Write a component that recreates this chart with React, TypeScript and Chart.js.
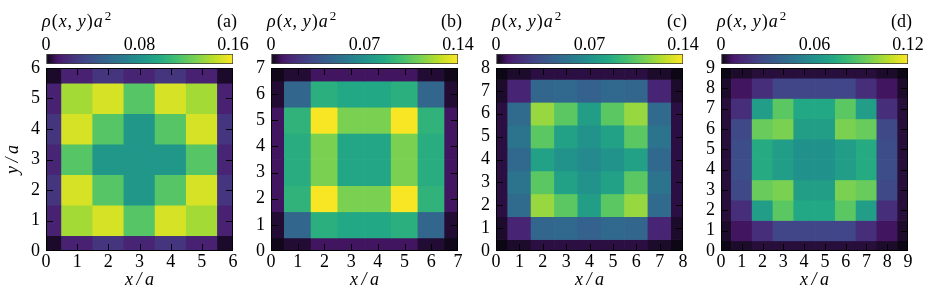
import React, { useEffect, useRef } from "react";
import { Chart, registerables } from "chart.js";

Chart.register(...registerables);
const FONT = "'Liberation Serif', 'Times New Roman', 'DejaVu Serif', serif";
Chart.defaults.font.family = FONT;
Chart.defaults.color = "#000";

// ---------------- data ----------------
const panelTags = ["(a)", "(b)", "(c)", "(d)"];
const latticeSizes = [6, 7, 8, 9];
const colorMax = [0.16, 0.14, 0.14, 0.12];
const colorTicks = [
  [0, 0.08, 0.16],
  [0, 0.07, 0.14],
  [0, 0.07, 0.14],
  [0, 0.06, 0.12],
];
const colorTickLabels = [
  ["0", "0.08", "0.16"],
  ["0", "0.07", "0.14"],
  ["0", "0.07", "0.14"],
  ["0", "0.06", "0.12"],
];

// rows listed from the top (y = L) down to y = 0; columns x = 0..L
const densityA = [
  [0.003, 0.0144, 0.024, 0.016, 0.024, 0.0144, 0.003],
  [0.0144, 0.138, 0.15, 0.117, 0.15, 0.138, 0.0144],
  [0.024, 0.15, 0.117, 0.084, 0.117, 0.15, 0.024],
  [0.016, 0.117, 0.084, 0.084, 0.084, 0.117, 0.016],
  [0.024, 0.15, 0.117, 0.084, 0.117, 0.15, 0.024],
  [0.0144, 0.138, 0.15, 0.117, 0.15, 0.138, 0.0144],
  [0.003, 0.0144, 0.024, 0.016, 0.024, 0.0144, 0.003],
];
const densityB = [
  [0.0012, 0.0035, 0.0077, 0.0077, 0.0077, 0.0077, 0.0035, 0.0012],
  [0.0035, 0.046, 0.088, 0.084, 0.084, 0.088, 0.046, 0.0035],
  [0.0077, 0.09, 0.139, 0.112, 0.112, 0.139, 0.09, 0.0077],
  [0.0077, 0.087, 0.112, 0.083, 0.083, 0.112, 0.087, 0.0077],
  [0.0077, 0.087, 0.112, 0.083, 0.083, 0.112, 0.087, 0.0077],
  [0.0077, 0.09, 0.139, 0.112, 0.112, 0.139, 0.09, 0.0077],
  [0.0035, 0.046, 0.088, 0.084, 0.084, 0.088, 0.046, 0.0035],
  [0.0012, 0.0035, 0.0077, 0.0077, 0.0077, 0.0077, 0.0035, 0.0012],
];
const densityC = [
  [0.0007, 0.0028, 0.0049, 0.0049, 0.0049, 0.0049, 0.0049, 0.0028, 0.0007],
  [0.0028, 0.014, 0.046, 0.047, 0.043, 0.047, 0.046, 0.014, 0.0028],
  [0.0049, 0.048, 0.118, 0.104, 0.078, 0.104, 0.118, 0.048, 0.0049],
  [0.0049, 0.053, 0.104, 0.08, 0.071, 0.08, 0.104, 0.053, 0.0049],
  [0.0049, 0.047, 0.08, 0.071, 0.066, 0.071, 0.08, 0.047, 0.0049],
  [0.0049, 0.053, 0.104, 0.08, 0.071, 0.08, 0.104, 0.053, 0.0049],
  [0.0049, 0.048, 0.118, 0.104, 0.078, 0.104, 0.118, 0.048, 0.0049],
  [0.0028, 0.014, 0.046, 0.047, 0.043, 0.047, 0.046, 0.014, 0.0028],
  [0.0007, 0.0028, 0.0049, 0.0049, 0.0049, 0.0049, 0.0049, 0.0028, 0.0007],
];
const densityD = [
  [0.0006, 0.0024, 0.0036, 0.0036, 0.0036, 0.0036, 0.0036, 0.0036, 0.0024, 0.0006],
  [0.0024, 0.0066, 0.0156, 0.025, 0.025, 0.025, 0.025, 0.0156, 0.0066, 0.0024],
  [0.0036, 0.0156, 0.066, 0.089, 0.072, 0.072, 0.089, 0.066, 0.0156, 0.0036],
  [0.0036, 0.026, 0.092, 0.096, 0.067, 0.067, 0.096, 0.092, 0.026, 0.0036],
  [0.0036, 0.028, 0.073, 0.066, 0.06, 0.06, 0.066, 0.073, 0.028, 0.0036],
  [0.0036, 0.028, 0.073, 0.066, 0.06, 0.06, 0.066, 0.073, 0.028, 0.0036],
  [0.0036, 0.026, 0.092, 0.096, 0.067, 0.067, 0.096, 0.092, 0.026, 0.0036],
  [0.0036, 0.0156, 0.066, 0.089, 0.072, 0.072, 0.089, 0.066, 0.0156, 0.0036],
  [0.0024, 0.0066, 0.0156, 0.025, 0.025, 0.025, 0.025, 0.0156, 0.0066, 0.0024],
  [0.0006, 0.0024, 0.0036, 0.0036, 0.0036, 0.0036, 0.0036, 0.0036, 0.0024, 0.0006],
];
const densities = [densityA, densityB, densityC, densityD];

// ---------------- layout / style ----------------
const PLOT_LEFTS = [46, 271, 496, 721];
const PLOT_W = 187;
const PLOT_TOP = 68;
const PLOT_BOTTOM = 251;
const FS = 18;
const TICK_LEN = 7;

const VIRIDIS = [
  "#440154", "#482475", "#414487", "#355f8d", "#2a788e", "#21918c",
  "#22a884", "#44bf70", "#7ad151", "#bddf26", "#fde725",
];
const LOW = [8, 5, 14];
const hex = (h: string) => [1, 3, 5].map((i) => parseInt(h.slice(i, i + 2), 16));
const VIR_RGB = VIRIDIS.map(hex);
function viridis(t: number): number[] {
  const c = Math.max(0, Math.min(1, t)) * 10;
  const i = Math.min(9, Math.floor(c));
  const f = c - i;
  return VIR_RGB[i].map((v, j) => v + (VIR_RGB[i + 1][j] - v) * f);
}
function colorFor(t: number): string {
  let rgb: number[];
  if (t < 0.06) {
    const top = viridis(0.06);
    const f = Math.max(0, t) / 0.06;
    rgb = LOW.map((v, j) => v + (top[j] - v) * f);
  } else rgb = viridis(t);
  return `rgb(${rgb.map((v) => Math.round(v)).join(",")})`;
}

const innerTicks = {
  id: "innerTicks",
  afterDatasetsDraw(chart: any) {
    const { ctx, chartArea: a, scales } = chart;
    const xs = scales.x;
    const ys = scales.y;
    ctx.save();
    ctx.strokeStyle = "#000";
    ctx.lineWidth = 1;
    ctx.beginPath();
    xs.ticks.forEach((t: any) => {
      if (t.value <= xs.min || t.value >= xs.max) return;
      const px = Math.round(xs.getPixelForValue(t.value)) + 0.5;
      ctx.moveTo(px, a.bottom);
      ctx.lineTo(px, a.bottom - TICK_LEN);
      ctx.moveTo(px, a.top);
      ctx.lineTo(px, a.top + TICK_LEN);
    });
    ys.ticks.forEach((t: any) => {
      if (t.value <= ys.min || t.value >= ys.max) return;
      const py = Math.round(ys.getPixelForValue(t.value)) + 0.5;
      ctx.moveTo(a.left, py);
      ctx.lineTo(a.left + TICK_LEN, py);
      ctx.moveTo(a.right, py);
      ctx.lineTo(a.right - TICK_LEN, py);
    });
    ctx.stroke();
    ctx.strokeRect(a.left + 0.5, a.top + 0.5, a.width - 1, a.height - 1);
    ctx.restore();
  },
};

const panelTitle = {
  id: "panelTitle",
  afterDraw(chart: any, _args: any, opts: any) {
    const { ctx, chartArea } = chart;
    const base = 27;
    const it = `italic ${FS}px ${FONT}`;
    const rm = `${FS}px ${FONT}`;
    const segs: [string, string][] = [
      ["ρ", it], ["(", rm], ["x", it], [",", rm], ["\u2009", rm],
      ["y", it], [")", rm], ["a", it],
    ];
    ctx.save();
    ctx.fillStyle = "#000";
    ctx.textBaseline = "alphabetic";
    ctx.textAlign = "left";
    let x = chartArea.left - 4;
    for (const [s, f] of segs) {
      ctx.font = f;
      ctx.fillText(s, x, base);
      x += ctx.measureText(s).width + 1;
    }
    ctx.font = `${Math.round(FS * 0.72)}px ${FONT}`;
    ctx.fillText("2", x + 1, base - 7);
    ctx.font = rm;
    ctx.textAlign = "right";
    ctx.fillText(opts.tag, chartArea.right + 4, base);
    ctx.restore();
  },
};

function heatConfig(k: number): any {
  const L = latticeSizes[k];
  const vmax = colorMax[k];
  const rows = densities[k];
  const datasets = rows.map((row, r) => {
    const yc = L - r;
    return {
      label: `y=${yc}`,
      data: row.map((_, i) => ({ x: i, y: [yc - 0.5, yc + 0.5] })),
      backgroundColor: row.map((v) => colorFor(v / vmax)),
      borderWidth: 0,
      grouped: false,
      barPercentage: 1,
      categoryPercentage: 1,
      clip: 0,
    };
  });
  const tickFont = { family: FONT, size: FS };
  const titleFont = { family: FONT, size: FS, style: "italic" };
  const H = 294 - 40;
  return {
    type: "bar",
    data: { datasets },
    options: {
      animation: false,
      responsive: false,
      events: [],
      layout: { padding: { top: PLOT_TOP - 40, right: 8, bottom: 0, left: 0 } },
      plugins: { legend: { display: false }, tooltip: { enabled: false } },
      scales: {
        x: {
          type: "linear",
          min: 0,
          max: L,
          offset: false,
          grid: { display: false, drawTicks: false },
          border: { display: false },
          ticks: { stepSize: 1, autoSkip: false, maxRotation: 0, padding: 0, font: tickFont, color: "#000" },
          title: {
            display: true,
            text: "x\u2009/\u2009a",
            font: titleFont,
            color: "#000",
            padding: { top: 0, bottom: 3 },
          },
          afterFit: (s: any) => {
            s.height = H - (PLOT_BOTTOM - 40);
          },
        },
        y: {
          type: "linear",
          min: 0,
          max: L,
          grid: { display: false, drawTicks: false },
          border: { display: false },
          ticks: { stepSize: 1, autoSkip: false, padding: 6, font: tickFont, color: "#000" },
          title: {
            display: k === 0,
            text: "y\u2009/\u2009a",
            font: titleFont,
            color: "#000",
            padding: { top: 2, bottom: 0 },
          },
          afterFit: (s: any) => {
            s.width = 46;
          },
        },
      },
    },
    plugins: [innerTicks],
  };
}

function colorbarConfig(k: number): any {
  const vmax = colorMax[k];
  const ticks = colorTicks[k];
  const labels = colorTickLabels[k];
  const gradientFor = (chart: any) => {
    const a = chart.chartArea;
    if (!a) return "#000";
    const xs = chart.scales.x;
    const g = chart.ctx.createLinearGradient(xs.getPixelForValue(0), 0, xs.getPixelForValue(vmax), 0);
    for (let i = 0; i <= 80; i++) g.addColorStop(i / 80, colorFor(i / 80));
    return g;
  };
  return {
    type: "bar",
    data: {
      labels: ["ρ"],
      datasets: [
        {
          data: [[0, vmax]],
          backgroundColor: (c: any) => gradientFor(c.chart),
          borderColor: "#3a3a3a",
          borderWidth: 1,
          borderSkipped: false,
          barPercentage: 1,
          categoryPercentage: 1,
        },
      ],
    },
    options: {
      indexAxis: "y",
      animation: false,
      responsive: false,
      events: [],
      layout: { padding: { left: 25, right: 25, top: 0, bottom: 1 } },
      plugins: { legend: { display: false }, tooltip: { enabled: false }, panelTitle: { tag: panelTags[k] } },
      scales: {
        x: {
          type: "linear",
          position: "top",
          min: 0,
          max: vmax,
          z: 1,
          afterBuildTicks: (s: any) => {
            s.ticks = ticks.map((v) => ({ value: v }));
          },
          ticks: {
            autoSkip: false,
            maxRotation: 0,
            padding: 0,
            font: { family: FONT, size: FS, lineHeight: 1 },
            color: "#000",
            callback: (_v: any, i: number) => labels[i],
          },
          grid: {
            drawTicks: false,
            lineWidth: 1,
            color: (c: any) =>
              c.tick && Math.abs(c.tick.value - ticks[1]) < 1e-9 ? "#000" : "rgba(0,0,0,0)",
          },
          border: { display: false },
          afterFit: (s: any) => {
            s.height = 54;
          },
        },
        y: { display: false },
      },
    },
    plugins: [panelTitle],
  };
}

function Panel({ k }: { k: number }) {
  const mainRef = useRef<HTMLCanvasElement>(null);
  const barRef = useRef<HTMLCanvasElement>(null);
  useEffect(() => {
    const main = new Chart(mainRef.current as HTMLCanvasElement, heatConfig(k));
    const bar = new Chart(barRef.current as HTMLCanvasElement, colorbarConfig(k));
    return () => {
      main.destroy();
      bar.destroy();
    };
  }, [k]);
  const left = PLOT_LEFTS[k];
  const cbW = PLOT_W + 50;
  const mW = PLOT_W + 46 + 8;
  return (
    <>
      <canvas
        ref={barRef}
        width={cbW}
        height={65}
        style={{ position: "absolute", left: left - 25, top: 0, width: cbW, height: 65 }}
      />
      <canvas
        ref={mainRef}
        width={mW}
        height={254}
        style={{ position: "absolute", left: left - 46, top: 40, width: mW, height: 254 }}
      />
    </>
  );
}

export default function App() {
  return (
    <div
      style={{
        position: "absolute",
        left: 0,
        top: 0,
        width: 936,
        height: 294,
        background: "#fff",
        overflow: "hidden",
        fontFamily: FONT,
      }}
    >
      {[0, 1, 2, 3].map((k) => (
        <Panel key={k} k={k} />
      ))}
    </div>
  );
}
